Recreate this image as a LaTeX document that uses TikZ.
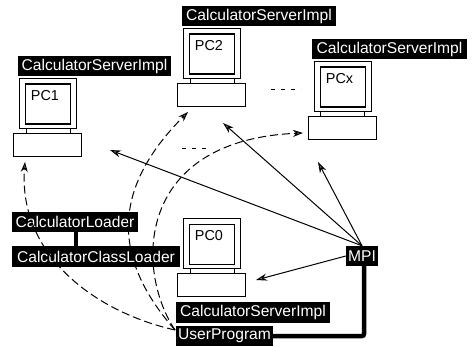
\documentclass[tikz,border=0pt]{standalone}
\usepackage{fontspec}
\setmainfont{Liberation Sans}
\usetikzlibrary{arrows.meta}
\tikzset{
  x=1pt,y=-1pt,
  lbl/.style={fill=black,text=white,inner sep=0pt,anchor=center,font=\fontsize{15.6}{18}\selectfont,minimum height=20pt},
  outerbox/.style={draw=black,line width=1.1pt,fill=white,minimum width=57pt,minimum height=50pt,inner sep=0pt,anchor=north west},
  innerbox/.style={draw=black,line width=1.3pt,fill=white,minimum width=45pt,minimum height=40pt,inner sep=0pt,anchor=north west},
  basebox/.style={draw=black,line width=0.9pt,fill=white,minimum width=68pt,minimum height=23pt,inner sep=0pt,anchor=north west},
  pctext/.style={font=\fontsize{14.4}{16}\selectfont,inner sep=0pt},
  thinarrow/.style={line width=1pt,-{Stealth[length=11pt,width=7pt,fill=black!55]}},
  dasharrow/.style={line width=1pt,dash pattern=on 8pt off 4pt,-{Stealth[length=10pt,width=7pt,fill=black!55]}},
  heavy/.style={line width=4.5pt},
  dots/.style={line width=0.9pt,dash pattern=on 4pt off 6pt}
}
\newcommand{\pcicon}[4]{%
  \node[outerbox] (#1mon) at (#2,#3) {};
  \node[innerbox] (#1scr) at (#2+6,#3+5.5) {};
  \node[pctext] (#1txt) at (#2+26,#3+18) {#4};
  \draw[line width=1pt] (#2+7,#3+50) -- (#2+7,#3+55) (#2+51,#3+50) -- (#2+51,#3+55);
  \node[basebox] (#1base) at (#2-6,#3+55) {};
}
\begin{document}
\begin{tikzpicture}
\useasboundingbox (0,0) rectangle (473,347);
\fill[white] (0,0) rectangle (473,347);
\pcicon{a}{19}{78}{PC1}
\pcicon{b}{183}{28}{PC2}
\pcicon{x}{313.5}{61}{PCx}
\pcicon{z}{183}{218}{PC0}
% labels
\node[lbl,minimum width=153pt] (la) at (94.5,66) {CalculatorServerImpl};
\node[lbl,minimum width=154pt] (lb) at (259,16) {CalculatorServerImpl};
\node[lbl,minimum width=155pt] (lx) at (389.5,49) {CalculatorServerImpl};
\node[lbl,minimum width=154pt,minimum height=21pt] (lz) at (253,312.5) {CalculatorServerImpl};
\node[lbl,minimum width=126pt] (cl) at (75,222) {CalculatorLoader};
\node[lbl,minimum width=168pt,minimum height=21pt] (ccl) at (96,256.5) {CalculatorClassLoader};
\node[lbl,minimum width=97pt] (up) at (224.5,336) {UserProgram};
\node[lbl,minimum width=32pt] (mpi) at (362,256) {MPI};
% free ends
\coordinate (ta) at (110,150);
\coordinate (tb) at (223,123);
\coordinate (tx) at (318,162);
\coordinate (tz) at (256,280);
\coordinate (da) at (25,162);
\coordinate (db) at (188,112);
\coordinate (dx) at (303,133);
\coordinate (us) at (175,330);
\coordinate (corner) at (364,336);
% thick links
\draw[heavy] (cl.south -| 76,0) -- (ccl.north -| 76,0);
\draw[heavy,rounded corners=2pt] (mpi.south -| corner) -- (corner) -- (up.east);
% MPI arrows
\draw[thinarrow] (mpi.north) -- (ta);
\draw[thinarrow] (mpi.north) -- (tb);
\draw[thinarrow] (mpi.north) -- (tx);
\draw[thinarrow] (mpi.west) -- (tz);
% dashed arrows
\draw[dasharrow] (us) .. controls (95,312) and (18,255) .. (da);
\draw[dasharrow] (us) .. controls (118,265) and (105,195) .. (db);
\draw[dasharrow] (us) .. controls (135,270) and (135,140) .. (dx);
% ellipses
\draw[dots] (182,148.5) -- (209,148.5);
\draw[dots] (271,89) -- (301,89);
\end{tikzpicture}
\end{document}
